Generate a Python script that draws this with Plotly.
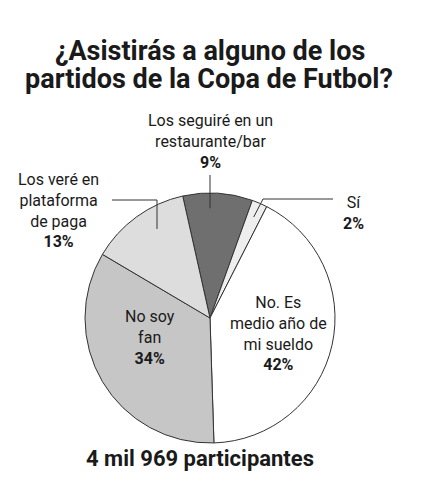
import math
import plotly.graph_objects as go

W, H = 421, 500
OFF = 8  # the page body adds an 8px margin around the figure

# data, clockwise from the top
labels = ["Los seguiré en un<br>restaurante/bar", "Sí", "No. Es<br>medio año de<br>mi sueldo",
          "No soy<br>fan", "Los veré en<br>plataforma<br>de paga"]
values = [9, 2, 42, 34, 13]
colors = ["#6f6f6f", "#eeeeee", "#ffffff", "#c6c6c6", "#dddddd"]
title_lines = ["¿Asistirás a alguno de los", "partidos de la Copa de Futbol?"]
footer = "4 mil 969 participantes"

# pie geometry in window pixels
cx, cy, R = 210, 318, 125
start = -12.6
FONT = "Roboto"


def px(x, y):
    return (x - OFF) / W, 1 - (y - OFF) / H


def mid_point(i, r):
    # point inside slice i at radius r (pixels)
    a0 = start + 360 * sum(values[:i]) / sum(values)
    a = math.radians(a0 + 180 * values[i] / sum(values))
    return cx + r * math.sin(a), cy - r * math.cos(a)


fig = go.Figure()
x0, y1 = px(cx - R, cy - R)
x1, y0 = px(cx + R, cy + R)
fig.add_trace(go.Pie(labels=labels, values=values, sort=False, direction="clockwise",
                     rotation=start, marker=dict(colors=colors, line=dict(color="#333333", width=1)),
                     textinfo="none", hoverinfo="label+percent",
                     domain=dict(x=[x0, x1], y=[y0, y1])))

shapes = []


def line(pts):
    for (ax, ay), (bx, by) in zip(pts[:-1], pts[1:]):
        p, q = px(ax, ay), px(bx, by)
        shapes.append(dict(type="line", xref="paper", yref="paper", x0=p[0], y0=p[1],
                           x1=q[0], y1=q[1], line=dict(color="#333333", width=1)))


def note(x, y, text, size=16):
    p = px(x, y)
    fig.add_annotation(x=p[0], y=p[1], xref="paper", yref="paper", text=text, showarrow=False,
                       xanchor="center", yanchor="middle", align="center",
                       font=dict(family=FONT, size=size, color="#1a1a1a"))


def slice_note(x, y, i):
    note(x, y, "%s<br><b>%d%%</b>" % (labels[i], values[i]))


# title
note(210, 51, "<b>%s</b>" % title_lines[0], size=27)
note(209, 79, "<b>%s</b>" % title_lines[1], size=27)

# restaurante/bar
slice_note(210, 141, 0)
ex, ey = mid_point(0, 110)
line([(210, 175), (210, ey)])

# Sí
slice_note(353, 213, 1)
ex, ey = mid_point(1, 110)
line([(333, 199), (263, 199), (ex, ey)])

# No. Es medio año de mi sueldo
slice_note(278, 333, 2)

# No soy fan
slice_note(150, 337, 3)

# plataforma
slice_note(58, 210, 4)
ex, ey = mid_point(4, 110)
line([(112, 200), (157, 200), (157, ey)])

# footer
note(200, 458, "<b>%s</b>" % footer, size=22)

fig.update_layout(width=W, height=H, margin=dict(l=0, r=0, t=0, b=0), showlegend=False,
                  paper_bgcolor="white", plot_bgcolor="white", shapes=shapes,
                  font=dict(family=FONT))
fig.write_html("out.html")
